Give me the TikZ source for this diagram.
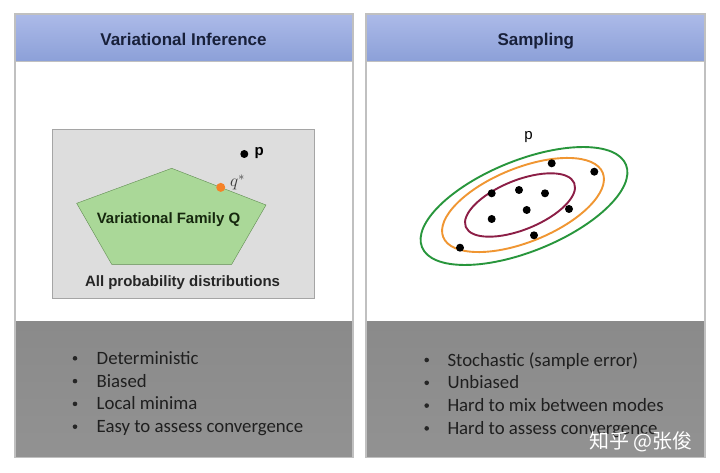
\documentclass[tikz,border=0pt]{standalone}
\usepackage{fontspec}
\setmainfont{Carlito}
\newfontfamily\headfont{Liberation Sans}
\newfontfamily\cjk{Noto Sans CJK SC}
\usetikzlibrary{calc}

\definecolor{headtop}{RGB}{172,186,232}
\definecolor{headbot}{RGB}{140,160,216}
\definecolor{navy}{RGB}{24,32,58}
\definecolor{paneledge}{RGB}{192,192,192}
\definecolor{boxgray}{RGB}{221,221,221}
\definecolor{boxedge}{RGB}{165,165,165}
\definecolor{famgreen}{RGB}{170,216,152}
\definecolor{famedge}{RGB}{95,140,80}
\definecolor{famtext}{RGB}{22,40,14}
\definecolor{foottop}{RGB}{138,138,138}
\definecolor{footbot}{RGB}{146,146,146}
\definecolor{ringgreen}{RGB}{40,150,60}
\definecolor{ringorange}{RGB}{240,150,50}
\definecolor{ringred}{RGB}{140,30,70}
\definecolor{qorange}{RGB}{245,130,40}

\begin{document}
\begin{tikzpicture}[x=1pt,y=-1pt,
    headtext/.style={font=\headfont\bfseries\fontsize{17}{20}\selectfont, text=navy, anchor=base, inner sep=0pt},
    boxtext/.style={font=\headfont\bfseries\fontsize{15}{18}\selectfont, anchor=base, inner sep=0pt},
    item/.style={font=\fontsize{18.8}{22}\selectfont, text=black!88, anchor=base west, inner sep=0pt}]
        \useasboundingbox (0,0) rectangle (720,473);

        % the two panels
        \foreach \xa/\xb in {15/353,366/705} {
            \shade[top color=headtop, bottom color=headbot] (\xa,14) rectangle (\xb,61);
            \fill[white] (\xa,61) rectangle (\xb,321.5);
            \shade[top color=foottop, bottom color=footbot] (\xa,321.5) rectangle (\xb,457.5);
            \draw[paneledge, line width=1.2pt] (\xa,14) rectangle (\xb,457.5);
            \draw[paneledge] (\xa,61) -- (\xb,61);
        }
        \node[headtext] (vihead) at (183.5,45.7) {Variational Inference};
        \node[headtext] (samphead) at (535.8,45.7) {Sampling};

        % variational inference
        \draw[boxedge, fill=boxgray, line width=1pt] (52,130) rectangle (314,298);
        \coordinate (pa) at (171.7,168.3);
        \coordinate (pb) at (266,205);
        \coordinate (pc) at (231.7,264.3);
        \coordinate (pd) at (111.7,264.3);
        \coordinate (pe) at (76.7,203.3);
        \draw[famedge, fill=famgreen] (pa) -- (pb) -- (pc) -- (pd) -- (pe) -- cycle;
        \node[boxtext, text=famtext] (family) at (168.5,224) {Variational Family Q};
        \node[boxtext, text=black!85] (allprob) at (182.5,286.7) {All probability distributions};

        \coordinate (qstar) at ($(pa)!0.52!(pb)$);
        \fill[qorange] (qstar) circle (4.5pt);
        \node[anchor=base west, inner sep=0pt, text=black!78, font=\fontsize{17}{19}\selectfont] (qlabel) at (230,187) {$q^{*}$};
        \coordinate (ptarget) at (244.3,154);
        \fill[black] (ptarget) circle (4pt);
        \node[anchor=base west, inner sep=0pt, font=\headfont\bfseries\fontsize{15}{18}\selectfont] (plabel) at (254.5,156) {p};

        % sampling
        \node[anchor=base, inner sep=0pt, font=\headfont\fontsize{15}{18}\selectfont] (pdist) at (528.5,140) {p};
        \coordinate (cg) at (524,206);
        \coordinate (co) at (523,205);
        \coordinate (cr) at (520,205);
        \draw[ringgreen, line width=1.9pt, rotate around={22:(cg)}] (cg) ellipse (110pt and 45.5pt);
        \draw[ringorange, line width=1.9pt, rotate around={22:(co)}] (co) ellipse (86pt and 37pt);
        \draw[ringred, line width=1.9pt, rotate around={22:(cr)}] (cr) ellipse (58.5pt and 24.7pt);
        \foreach \px/\py in {551.7/163.3, 594.3/171.7, 491.7/193.3, 519/190, 545/193.3,
                526.7/210, 569/209, 491.7/219, 534/235.3, 460/247.7}
            \fill[black] (\px,\py) circle (4pt);

        % bullet lists
        \foreach \txt [count=\i] in {Deterministic, Biased, Local minima, Easy to assess convergence} {
            \fill[black!85] (75,{335.5+22.8*\i}) circle (2.3pt);
            \node[item] (vi\i) at (96.5,{341.5+22.8*\i}) {\txt};
        }
        \foreach \txt [count=\i] in {Stochastic (sample error), Unbiased, Hard to mix between modes, Hard to assess convergence} {
            \fill[black!85] (426.7,{337.2+22.8*\i}) circle (2.3pt);
            \node[item] (samp\i) at (447.3,{343.2+22.8*\i}) {\txt};
        }

        \node[anchor=west, inner sep=0pt, text=white, font=\cjk\fontsize{20}{24}\selectfont] (mark) at (589,441.7) {知乎 @张俊};
    \end{tikzpicture}
\end{document}
